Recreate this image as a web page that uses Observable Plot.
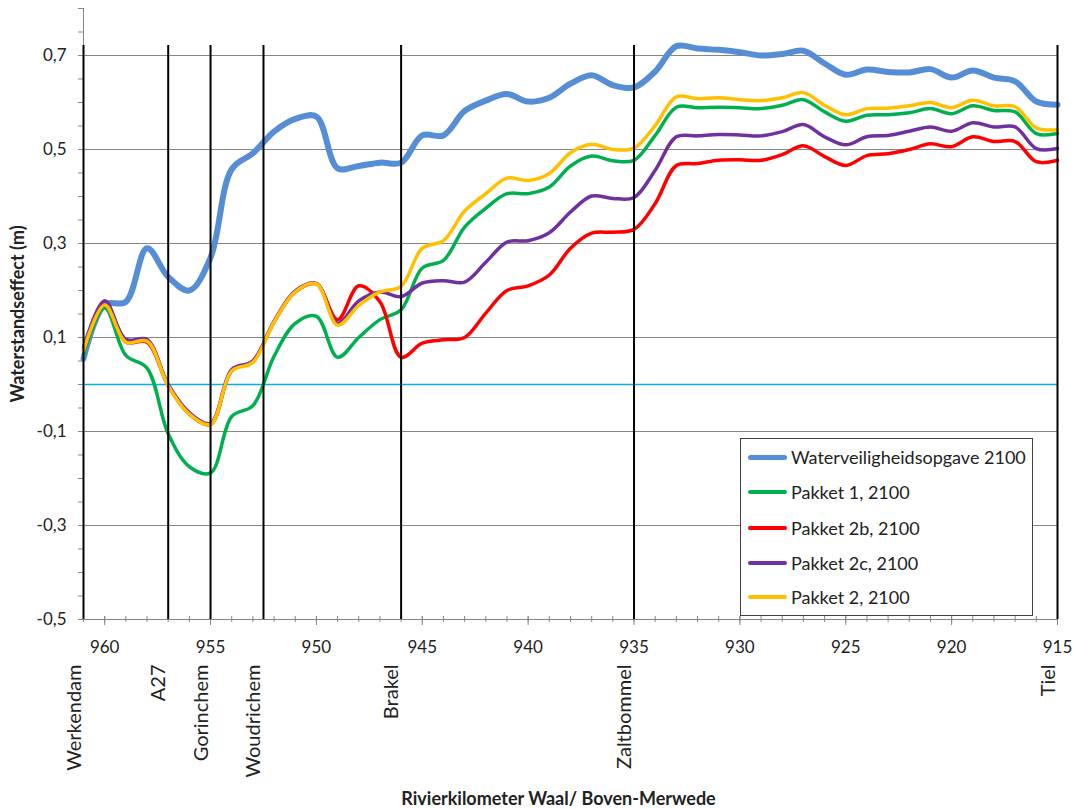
<!DOCTYPE html>
<html>
<head>
<meta charset="utf-8">
<script src="https://cdn.jsdelivr.net/npm/d3@7"></script>
<script src="https://cdn.jsdelivr.net/npm/@observablehq/plot@0.6"></script>
<style>
  body { margin: 0; background: #fff; }
  #wrap { position: relative; width: 1079px; height: 809px; }
  #legend {
    position: absolute; left: 740px; top: 438px; width: 293px; height: 178px;
    box-sizing: border-box; border: 1px solid #404040; background: #fff;
    font-family: Lato, sans-serif; font-size: 18px; color: #222;
  }
  #legend .row { position: absolute; left: 0; display: flex; align-items: center; height: 24px; }
  #legend .sw { width: 39px; margin-left: 7px; margin-right: 4px; border-radius: 3px; }
</style>
</head>
<body>
<div id="wrap"></div>
<script>
// River kilometre (Waal / Boven-Merwede), downstream on the left
const km = [961, 960, 959, 958, 957, 956, 955, 954, 953, 952, 951, 950, 949, 948, 947, 946,
            945, 944, 943, 942, 941, 940, 939, 938, 937, 936, 935, 934, 933, 932, 931, 930,
            929, 928, 927, 926, 925, 924, 923, 922, 921, 920, 919, 918, 917, 916, 915];

// Water level effect (m) per series
const waterveiligheid = [0.055, 0.17, 0.176, 0.29, 0.229, 0.2, 0.27, 0.458, 0.492, 0.538, 0.565, 0.57,
  0.46, 0.465, 0.472, 0.472, 0.53, 0.53, 0.582, 0.604, 0.618, 0.602,
  0.61, 0.64, 0.658, 0.637, 0.632, 0.666, 0.72, 0.715, 0.712, 0.707,
  0.7, 0.703, 0.71, 0.683, 0.659, 0.67, 0.665, 0.664, 0.671, 0.653,
  0.668, 0.653, 0.645, 0.602, 0.595];
const pakket1 = [0.065, 0.163, 0.062, 0.035, -0.105, -0.175, -0.188, -0.068, -0.045, 0.06, 0.13, 0.145,
  0.058, 0.1, 0.138, 0.159, 0.248, 0.264, 0.335, 0.375, 0.406, 0.406,
  0.42, 0.465, 0.486, 0.476, 0.477, 0.53, 0.59, 0.589, 0.59, 0.589,
  0.587, 0.594, 0.606, 0.58, 0.56, 0.573, 0.574, 0.578, 0.587, 0.576,
  0.593, 0.583, 0.58, 0.534, 0.534];
const pakket2b = [0.072, 0.169, 0.09, 0.09, -0.003, -0.063, -0.085, 0.029, 0.05, 0.133, 0.197, 0.214,
  0.138, 0.21, 0.176, 0.058, 0.088, 0.095, 0.1, 0.152, 0.2, 0.21,
  0.233, 0.29, 0.322, 0.324, 0.33, 0.385, 0.466, 0.47, 0.477, 0.478,
  0.477, 0.489, 0.508, 0.485, 0.466, 0.487, 0.491, 0.5, 0.512, 0.506,
  0.527, 0.517, 0.517, 0.474, 0.477];
const pakket2c = [0.078, 0.178, 0.096, 0.096, 0.0, -0.06, -0.083, 0.032, 0.05, 0.135, 0.199, 0.215,
  0.13, 0.178, 0.197, 0.187, 0.216, 0.221, 0.218, 0.26, 0.303, 0.306,
  0.323, 0.367, 0.401, 0.396, 0.398, 0.456, 0.527, 0.529, 0.532, 0.531,
  0.529, 0.538, 0.553, 0.527, 0.51, 0.527, 0.53, 0.539, 0.548, 0.539,
  0.557, 0.548, 0.548, 0.502, 0.502];
const pakket2 = [0.072, 0.169, 0.09, 0.092, -0.003, -0.063, -0.085, 0.029, 0.047, 0.133, 0.197, 0.214,
  0.126, 0.168, 0.197, 0.209, 0.29, 0.306, 0.369, 0.406, 0.439, 0.434,
  0.449, 0.493, 0.511, 0.5, 0.503, 0.551, 0.612, 0.608, 0.61, 0.606,
  0.604, 0.61, 0.621, 0.594, 0.574, 0.587, 0.588, 0.593, 0.6, 0.589,
  0.605, 0.593, 0.591, 0.546, 0.542];

const seriesNames = ["Waterveiligheidsopgave 2100", "Pakket 1, 2100", "Pakket 2b, 2100", "Pakket 2c, 2100", "Pakket 2, 2100"];
const seriesValues = [waterveiligheid, pakket1, pakket2b, pakket2c, pakket2];
const seriesColors = ["#558ED5", "#00B050", "#FF0000", "#7030A0", "#FFC000"];
const seriesWidths = [6, 3.5, 3.5, 3.5, 3.5];

// Reference locations along the river
const placeNames = ["Werkendam", "A27", "Gorinchem", "Woudrichem", "Brakel", "Zaltbommel", "Tiel"];
const placeKm = [961, 957, 955, 952.5, 946, 935, 915];

// Axis ticks
const yMajor = [-0.5, -0.3, -0.1, 0.1, 0.3, 0.5, 0.7];
const yMinor = d3.range(-10, 17).map(i => +(i * 0.05).toFixed(2));
const xMajor = [960, 955, 950, 945, 940, 935, 930, 925, 920, 915];
const xMinor = d3.range(961, 914, -1);

const yTitle = "Waterstandseffect (m)";
const xTitle = "Rivierkilometer Waal/ Boven-Merwede";

const places = placeNames.map((name, i) => ({name, km: placeKm[i]}));
const gray = "#868686";
const ink = "#222";

const lineMarks = seriesValues.map((vals, s) =>
  Plot.line(vals.map((v, i) => ({km: km[i], v})), {
    x: "km", y: "v", stroke: seriesColors[s], strokeWidth: seriesWidths[s],
    curve: "catmull-rom", strokeLinejoin: "round", strokeLinecap: "round"
  })
);

const chart = Plot.plot({
  width: 1079,
  height: 809,
  marginLeft: 83,
  marginRight: 22,
  marginTop: 8,
  marginBottom: 190,
  x: {domain: [961, 915], label: null},
  y: {domain: [-0.5, 0.8], label: null},
  style: {fontFamily: "Lato, sans-serif", fontSize: "17px", color: ink, background: "#fff"},
  marks: [
    Plot.gridY(yMajor, {stroke: gray, strokeOpacity: 1, strokeWidth: 1}),
    Plot.ruleX([961], {stroke: gray, strokeWidth: 1}),
    Plot.ruleY([-0.5], {stroke: gray, strokeWidth: 1}),
    Plot.axisY(yMinor, {
      tickSize: 5, tickPadding: 12, stroke: gray, fill: ink, fontSize: 17, label: null,
      tickFormat: d => yMajor.includes(d) ? d.toFixed(1).replace(".", ",") : ""
    }),
    Plot.axisX(xMinor, {tickSize: 6, dy: -3, stroke: gray, tickFormat: () => "", label: null}),
    Plot.axisX(xMajor, {
      tickSize: 9, dy: -3, tickPadding: 15, stroke: gray, fill: ink, fontSize: 17, label: null,
      tickFormat: d => String(d)
    }),
    Plot.ruleY([0], {stroke: "#00B0F0", strokeWidth: 1.5}),
    ...lineMarks,
    Plot.ruleX(places, {x: "km", stroke: "#000", strokeWidth: 2, insetTop: 37}),
    Plot.text(places, {
      x: "km", text: "name", frameAnchor: "bottom", rotate: -90, textAnchor: "end",
      dy: 45, dx: -3, fontSize: 20, fill: ink
    }),
    Plot.text([yTitle], {
      text: d => d, frameAnchor: "left", rotate: -90, textAnchor: "middle", dx: -65,
      fontWeight: "bold", fontSize: 18, fill: ink
    }),
    Plot.text([xTitle], {
      text: d => d, frameAnchor: "bottom", dy: 185, dx: -12,
      fontWeight: "bold", fontSize: 18, fill: ink
    })
  ]
});

const wrap = document.getElementById("wrap");
wrap.appendChild(chart);

// Legend box inside the plot area
const legend = document.createElement("div");
legend.id = "legend";
const rowTops = [6, 41, 77, 112, 146];
seriesNames.forEach((name, i) => {
  const row = document.createElement("div");
  row.className = "row";
  row.style.top = rowTops[i] + "px";
  const sw = document.createElement("span");
  sw.className = "sw";
  sw.style.background = seriesColors[i];
  sw.style.height = (i === 0 ? 5 : 4) + "px";
  const label = document.createElement("span");
  label.textContent = name;
  row.appendChild(sw);
  row.appendChild(label);
  legend.appendChild(row);
});
wrap.appendChild(legend);
</script>
</body>
</html>
